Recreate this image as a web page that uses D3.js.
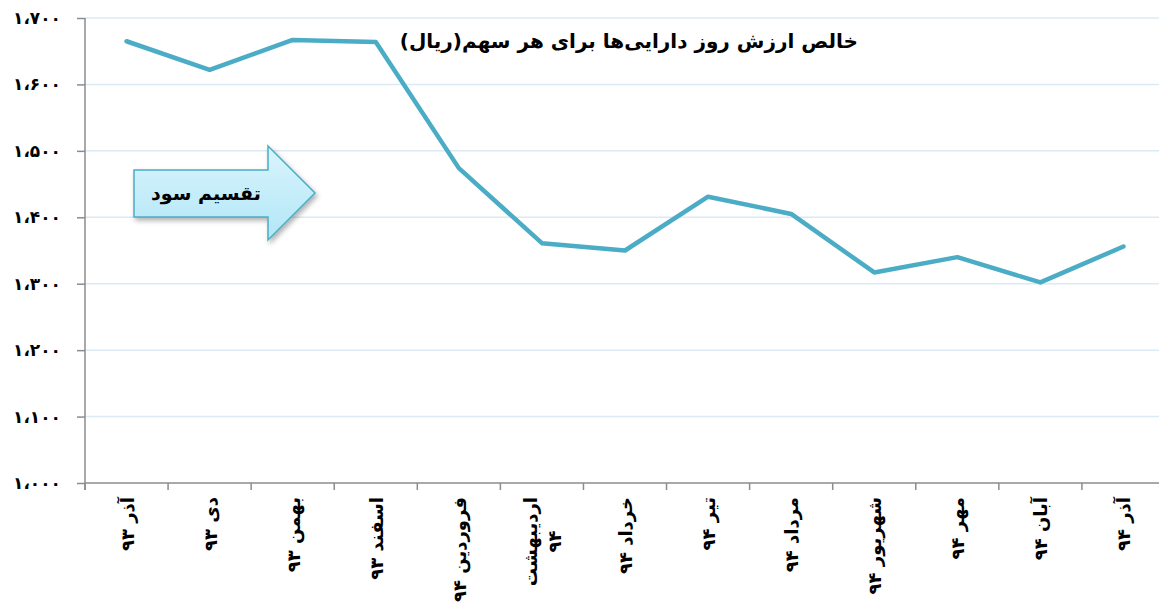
<!DOCTYPE html>
<html lang="fa">
<head>
<meta charset="utf-8">
<script src="https://cdn.jsdelivr.net/npm/d3@7"></script>
<style>
  body { margin: 0; background: #fff; }
  svg { display: block; font-family: "DejaVu Sans", sans-serif; font-weight: bold; }
  .grid line { stroke: #dbeaf3; stroke-width: 1.5; }
  .axis path, .axis line { stroke: #8c8c8c; stroke-width: 1.5; }
  .axis text { fill: #000; font-weight: bold; font-family: "DejaVu Sans", sans-serif; }
</style>
</head>
<body>
<svg width="1159" height="612"></svg>
<script>
const months = ['آذر ۹۳', 'دی ۹۳', 'بهمن ۹۳', 'اسفند ۹۳', 'فروردین ۹۴', 'اردیبهشت\n۹۴',
  'خرداد ۹۴', 'تیر ۹۴', 'مرداد ۹۴', 'شهریور ۹۴', 'مهر ۹۴', 'آبان ۹۴', 'آذر ۹۴'];
const nav = [1665, 1622, 1667, 1664, 1474, 1361, 1350, 1431, 1405, 1317, 1340, 1302, 1356];
const yTicks = [1000, 1100, 1200, 1300, 1400, 1500, 1600, 1700];
const title = 'خالص ارزش روز دارایی‌ها برای هر سهم(ریال)';
const arrowLabel = 'تقسیم سود';

const W = 1159, H = 612;
const margin = {top: 18, left: 85, bottom: 129};
const plotW = 1080;

const svg = d3.select('svg');
const faDigits = s => String(s).replace(/\d/g, d => '۰۱۲۳۴۵۶۷۸۹'[d]);
const fmt = v => faDigits(d3.format(',')(v)).replace(',', '،');

const x = d3.scaleBand()
  .domain(months)
  .range([margin.left, margin.left + plotW]);

const y = d3.scaleLinear()
  .domain([1000, 1700])
  .range([H - margin.bottom, margin.top]);

// gridlines
svg.append('g')
    .attr('class', 'grid')
  .selectAll('line')
  .data(yTicks.slice(1))
  .join('line')
    .attr('x1', margin.left)
    .attr('x2', W)
    .attr('y1', d => y(d))
    .attr('y2', d => y(d));

// y axis
const yAxis = svg.append('g')
    .attr('class', 'axis')
    .attr('transform', `translate(${margin.left},0)`)
    .call(d3.axisLeft(y).tickValues(yTicks).tickSize(8).tickSizeOuter(0).tickFormat(fmt));
yAxis.select('.domain').attr('d', `M0,${y(1700)}V${y(1000) + 7}`);
yAxis.selectAll('text')
    .attr('x', -24)
    .attr('font-size', 17);

// x axis
const xAxis = svg.append('g')
    .attr('class', 'axis')
    .attr('transform', `translate(0,${y(1000)})`)
    .call(d3.axisBottom(x).tickSize(0).tickSizeOuter(0).tickFormat(''));
xAxis.select('.domain').attr('d', `M${margin.left},0H${W}`);

xAxis.selectAll('.sep')
  .data(months)
  .join('line')
    .attr('class', 'sep')
    .attr('x1', d => x(d))
    .attr('x2', d => x(d))
    .attr('y1', 0)
    .attr('y2', 7);

const lab = xAxis.selectAll('.lab')
  .data(months)
  .join('text')
    .attr('class', 'lab')
    .attr('font-size', 18)
    .attr('text-anchor', 'end')
    .attr('transform', d => `translate(${x(d) + x.bandwidth() / 2},14) rotate(-90)`);
lab.each(function (d) {
  const lines = d.split('\n');
  const t = d3.select(this);
  const spans = lines.map((l, i) => t.append('tspan')
      .attr('x', 0)
      .attr('y', (i - (lines.length - 1) / 2) * 24 + 7)
      .text(l));
  if (lines.length > 1) {
    // wrapped labels are centred on their longest line
    const maxLen = d3.max(spans, s => s.node().getComputedTextLength());
    t.attr('text-anchor', 'middle');
    spans.forEach(s => s.attr('x', -maxLen / 2));
  }
});

// line
const line = d3.line()
  .x((d, i) => x(months[i]) + x.bandwidth() / 2)
  .y(d => y(d));

svg.append('path')
    .datum(nav)
    .attr('fill', 'none')
    .attr('stroke', '#4bacc6')
    .attr('stroke-width', 4.5)
    .attr('stroke-linejoin', 'round')
    .attr('stroke-linecap', 'round')
    .attr('d', line);

// title
svg.append('text')
    .attr('x', 858)
    .attr('y', 48)
    .attr('font-size', 20)
    .attr('direction', 'rtl')
    .attr('text-anchor', 'start')
    .text(title);

// arrow callout
const defs = svg.append('defs');
const grad = defs.append('linearGradient')
    .attr('id', 'arrowFill')
    .attr('x1', 0).attr('y1', 0).attr('x2', 0).attr('y2', 1);
grad.append('stop').attr('offset', '0%').attr('stop-color', '#d9f5fd');
grad.append('stop').attr('offset', '100%').attr('stop-color', '#b2e6f6');
const shadow = defs.append('filter').attr('id', 'shadow')
    .attr('x', '-20%').attr('y', '-20%').attr('width', '140%').attr('height', '140%');
shadow.append('feDropShadow')
    .attr('dx', 2).attr('dy', 3).attr('stdDeviation', 2.5)
    .attr('flood-color', '#000').attr('flood-opacity', 0.3);

const ax0 = 134, ax1 = 268, tip = 315;
const bodyTop = 170, bodyBot = 217, headTop = 146, headBot = 240, mid = 193;
svg.append('path')
    .attr('d', `M${ax0},${bodyTop}H${ax1}V${headTop}L${tip},${mid}L${ax1},${headBot}V${bodyBot}H${ax0}Z`)
    .attr('fill', 'url(#arrowFill)')
    .attr('stroke', '#4bacc6')
    .attr('stroke-width', 1.5)
    .attr('filter', 'url(#shadow)');

svg.append('text')
    .attr('x', 206)
    .attr('y', 200)
    .attr('text-anchor', 'middle')
    .attr('font-size', 19)
    .text(arrowLabel);
</script>
</body>
</html>
